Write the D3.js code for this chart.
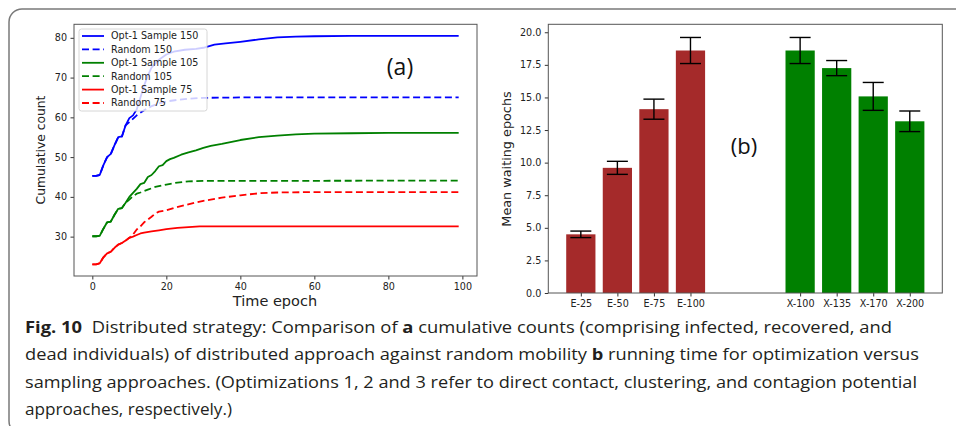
<!DOCTYPE html>
<html>
<head>
<meta charset="utf-8">
<script src="https://cdn.jsdelivr.net/npm/d3@7"></script>
<style>
  html, body { margin: 0; padding: 0; background: #fff; }
  svg { display: block; }
</style>
</head>
<body>
<svg id="fig" width="956" height="426"></svg>
<script>
// ---- panel (a): cumulative counts over time epochs ----
const opt150Epochs = [0,1,2,3,4,5,6,7,8,9,10,11,12,13,14,15,16,17,18,20,22,25,28,30,33,36,40,45,50,55,60,70,80,99];
const opt150Values = [45.3,45.3,45.5,48,50,50.8,53,55,55.2,58,59.8,60.5,62,65,68,70.5,72.5,73.5,74.5,75.8,76.5,77,77.2,77.5,78.3,78.6,79,79.6,80.1,80.3,80.4,80.5,80.5,80.5];
const rnd150Epochs = [0,1,2,3,4,5,6,7,8,9,10,12,14,16,18,20,23,26,30,40,99];
const rnd150Values = [45.3,45.3,45.5,48,50,50.8,53,55,55.2,58,58.8,60.5,61.8,62.8,63.5,64,64.4,64.7,64.9,65,65];

const opt105Epochs = [0,1,2,3,4,5,6,7,8,9,10,11,12,13,14,15,16,17,18,19,20,21,22,24,26,28,30,32,35,38,40,45,50,55,60,70,80,99];
const opt105Values = [30.1,30.1,30.2,32,33.6,33.8,35.5,37,37.2,38.5,40,41,42,43.2,43.5,45,45.5,46.5,47.7,48,49,49.5,49.8,50.6,51.2,51.7,52.3,52.8,53.3,53.9,54.3,55,55.4,55.7,55.9,56,56.1,56.1];
const rnd105Epochs = [0,1,2,3,4,5,6,7,8,9,10,11,12,13,15,17,20,23,26,30,99];
const rnd105Values = [30.1,30.1,30.2,32,33.6,33.8,35.5,37,37.2,38.5,39.3,40.2,40.8,41.1,41.8,42.5,43.1,43.6,43.9,44,44.1];

const opt75Epochs = [0,1,2,3,4,5,6,7,8,9,10,11,12,13,14,16,18,20,23,26,29,35,50,99];
const opt75Values = [23,23,23.3,24.8,25.8,26.2,27.2,28,28.4,29,29.7,30,30.4,30.8,31,31.3,31.6,31.9,32.2,32.4,32.6,32.6,32.6,32.6];
const rnd75Epochs = [0,1,2,3,4,5,6,7,8,9,10,11,12,13,14,15,16,17,18,20,22,25,28,30,35,40,45,50,60,99];
const rnd75Values = [23,23,23.3,24.8,25.8,26.2,27.2,28,28.4,29,29.7,30.5,31.8,32.6,33.6,34.3,35,35.8,36.3,36.6,37.2,37.9,38.6,39,39.8,40.4,40.9,41.1,41.2,41.2];

const seriesNames = ['Opt-1 Sample 150', 'Random 150', 'Opt-1 Sample 105', 'Random 105', 'Opt-1 Sample 75', 'Random 75'];
const seriesColors = ['#0000ff', '#0000ff', '#008000', '#008000', '#ff0000', '#ff0000'];
const seriesDashed = [false, true, false, true, false, true];
const seriesEpochs = [opt150Epochs, rnd150Epochs, opt105Epochs, rnd105Epochs, opt75Epochs, rnd75Epochs];
const seriesValues = [opt150Values, rnd150Values, opt105Values, rnd105Values, opt75Values, rnd75Values];

const xTicksA = [0, 20, 40, 60, 80, 100];
const yTicksA = [30, 40, 50, 60, 70, 80];

// ---- panel (b): mean waiting epochs ----
const barLabels = ['E-25', 'E-50', 'E-75', 'E-100', 'X-100', 'X-135', 'X-170', 'X-200'];
const barSlots = [0, 1, 2, 3, 6, 7, 8, 9];
const barMeans = [4.5, 9.6, 14.1, 18.6, 18.6, 17.25, 15.08, 13.17];
const barErrors = [0.25, 0.5, 0.77, 1.0, 1.0, 0.58, 1.07, 0.79];
const barColors = ['#a52a2a', '#a52a2a', '#a52a2a', '#a52a2a', '#008000', '#008000', '#008000', '#008000'];
const yTicksB = [0, 2.5, 5, 7.5, 10, 12.5, 15, 17.5, 20];

const captionLines = [
  [['Fig. 10', true], ['\u00a0 Distributed strategy: Comparison of ', false], ['a', true], [' cumulative counts (comprising infected, recovered, and', false]],
  [['dead individuals) of distributed approach against random mobility ', false], ['b', true], [' running time for optimization versus', false]],
  [['sampling approaches. (Optimizations 1, 2 and 3 refer to direct contact, clustering, and contagion potential', false]],
  [['approaches, respectively.)', false]]
];
const captionWidths = [867, 894, 892, 207];

const svg = d3.select('#fig');
const tickFont = 'DejaVu Sans, sans-serif';

// outer frame
svg.append('rect')
  .attr('x', 9).attr('y', 9)
  .attr('width', 1000).attr('height', 425)
  .attr('rx', 13)
  .attr('fill', 'none')
  .attr('stroke', '#7a7a7a')
  .attr('stroke-width', 1.5);

function styleAxis(g) {
  g.select('.domain').remove();
  g.selectAll('.tick line').attr('stroke', '#333').attr('stroke-width', 1);
  g.selectAll('.tick text')
    .attr('fill', '#222')
    .style('font-family', tickFont)
    .style('font-size', '9.6px');
}

// ===== panel (a) =====
const xA = d3.scaleLinear().domain([-4.95, 103.95]).range([74, 477]);
const yA = d3.scaleLinear().domain([20.1, 83.4]).range([276, 24.3]);

const gA = svg.append('g');

gA.append('g')
  .attr('transform', 'translate(0,276)')
  .call(d3.axisBottom(xA).tickValues(xTicksA).tickSize(3.5).tickPadding(3.5).tickFormat(d3.format('d')))
  .call(styleAxis);

gA.append('g')
  .attr('transform', 'translate(74,0)')
  .call(d3.axisLeft(yA).tickValues(yTicksA).tickSize(3.5).tickPadding(3.5).tickFormat(d3.format('d')))
  .call(styleAxis);

const lineA = d3.line().x(d => xA(d[0])).y(d => yA(d[1]));

seriesNames.forEach((name, i) => {
  const pts = seriesEpochs[i].map((e, j) => [e, seriesValues[i][j]]);
  gA.append('path')
    .datum(pts)
    .attr('d', lineA)
    .attr('fill', 'none')
    .attr('stroke', seriesColors[i])
    .attr('stroke-width', 1.8)
    .attr('stroke-linejoin', 'round')
    .attr('stroke-dasharray', seriesDashed[i] ? '7,3.6' : null);
});

gA.append('rect')
  .attr('x', 74).attr('y', 24.3)
  .attr('width', 403).attr('height', 251.7)
  .attr('fill', 'none')
  .attr('stroke', '#555')
  .attr('stroke-width', 1);

// legend
const legA = gA.append('g');
legA.append('rect')
  .attr('x', 79).attr('y', 29)
  .attr('width', 128).attr('height', 82)
  .attr('rx', 2.5)
  .attr('fill', '#fff').attr('fill-opacity', 0.8)
  .attr('stroke', '#cccccc').attr('stroke-width', 0.8);

seriesNames.forEach((name, i) => {
  const y = 36 + i * 13.4;
  legA.append('line')
    .attr('x1', 82).attr('x2', 104)
    .attr('y1', y).attr('y2', y)
    .attr('stroke', seriesColors[i])
    .attr('stroke-width', 1.8)
    .attr('stroke-dasharray', seriesDashed[i] ? '7,3.6' : null);
  legA.append('text')
    .attr('x', 111).attr('y', y)
    .attr('dy', '0.35em')
    .attr('fill', '#222')
    .style('font-family', tickFont)
    .style('font-size', '9.6px')
    .text(name);
});

gA.append('text')
  .attr('transform', 'translate(41,150) rotate(-90)')
  .attr('text-anchor', 'middle')
  .attr('dy', '0.35em')
  .attr('fill', '#222')
  .style('font-family', tickFont)
  .style('font-size', '12.3px')
  .text('Cumulative count');

gA.append('text')
  .attr('x', 275).attr('y', 301)
  .attr('text-anchor', 'middle')
  .attr('dy', '0.35em')
  .attr('fill', '#222')
  .style('font-family', tickFont)
  .style('font-size', '14.5px')
  .text('Time epoch');

gA.append('text')
  .attr('x', 400).attr('y', 67)
  .attr('text-anchor', 'middle')
  .attr('dy', '0.35em')
  .attr('fill', '#111')
  .style('font-family', 'Open Sans, sans-serif')
  .style('font-size', '23px')
  .text('(a)');

// ===== panel (b) =====
const xB = d3.scaleLinear().domain([-0.89, 9.89]).range([548.3, 942.3]);
const yB = d3.scaleLinear().domain([0, 20.61]).range([293, 24.3]);
const barW = xB(0.4) - xB(-0.4);

const gB = svg.append('g');

gB.append('g')
  .attr('transform', 'translate(548.3,0)')
  .call(d3.axisLeft(yB).tickValues(yTicksB).tickSize(3.5).tickPadding(3.5).tickFormat(d3.format('.1f')))
  .call(styleAxis);

gB.append('g')
  .attr('transform', 'translate(0,293)')
  .call(d3.axisBottom(xB).tickValues(barSlots).tickSize(3.5).tickPadding(3.5).tickFormat((d, i) => barLabels[i]))
  .call(styleAxis);

gB.selectAll('rect.bar')
  .data(barMeans)
  .enter().append('rect')
  .attr('class', 'bar')
  .attr('x', (d, i) => xB(barSlots[i]) - barW / 2)
  .attr('y', d => yB(d))
  .attr('width', barW)
  .attr('height', d => yB(0) - yB(d))
  .attr('fill', (d, i) => barColors[i]);

const err = gB.append('g').attr('stroke', '#000').attr('stroke-width', 1.4);
barMeans.forEach((m, i) => {
  const cx = xB(barSlots[i]);
  const lo = yB(m - barErrors[i]);
  const hi = yB(m + barErrors[i]);
  err.append('line').attr('x1', cx).attr('x2', cx).attr('y1', lo).attr('y2', hi);
  err.append('line').attr('x1', cx - 10.5).attr('x2', cx + 10.5).attr('y1', lo).attr('y2', lo);
  err.append('line').attr('x1', cx - 10.5).attr('x2', cx + 10.5).attr('y1', hi).attr('y2', hi);
});

gB.append('rect')
  .attr('x', 548.3).attr('y', 24.3)
  .attr('width', 394).attr('height', 268.7)
  .attr('fill', 'none')
  .attr('stroke', '#555')
  .attr('stroke-width', 1);

gB.append('text')
  .attr('transform', 'translate(506.7,159) rotate(-90)')
  .attr('text-anchor', 'middle')
  .attr('dy', '0.35em')
  .attr('fill', '#222')
  .style('font-family', tickFont)
  .style('font-size', '12.8px')
  .text('Mean waiting epochs');

gB.append('text')
  .attr('x', 744).attr('y', 146)
  .attr('text-anchor', 'middle')
  .attr('dy', '0.35em')
  .attr('fill', '#111')
  .style('font-family', 'Open Sans, sans-serif')
  .style('font-size', '22px')
  .text('(b)');

// ===== caption =====
const baselines = [332.7, 360, 387.7, 415];
captionLines.forEach((parts, i) => {
  const t = svg.append('text')
    .attr('x', 25).attr('y', baselines[i])
    .attr('textLength', captionWidths[i])
    .attr('lengthAdjust', 'spacingAndGlyphs')
    .attr('fill', '#231f20')
    .style('font-family', 'Open Sans, sans-serif')
    .style('font-size', '15.5px');
  parts.forEach(([s, bold]) => {
    t.append('tspan')
      .style('font-weight', bold ? 'bold' : 'normal')
      .text(s);
  });
});
</script>
</body>
</html>
